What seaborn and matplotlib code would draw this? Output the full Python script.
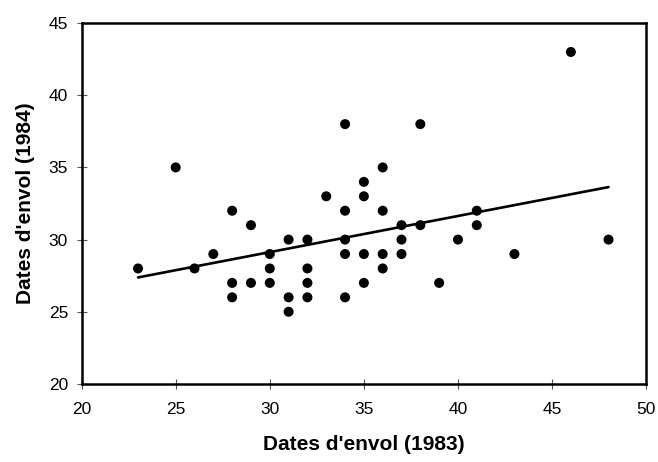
import numpy as np
import pandas as pd
import matplotlib
matplotlib.use("Agg")
import matplotlib.pyplot as plt
import seaborn as sns

# ---------------- DATA ----------------
dates_1983 = [23, 25, 26, 27, 28, 28, 28, 29, 29, 30, 30, 30, 31, 31, 31,
              32, 32, 32, 32, 33, 34, 34, 34, 34, 34, 35, 35, 35, 35, 36,
              36, 36, 36, 37, 37, 37, 38, 38, 39, 40, 41, 41, 43, 46, 48]
dates_1984 = [28, 35, 28, 29, 32, 27, 26, 31, 27, 29, 28, 27, 30, 26, 25,
              30, 28, 27, 26, 33, 38, 32, 30, 29, 26, 34, 33, 29, 27, 35,
              32, 29, 28, 31, 30, 29, 38, 31, 27, 30, 32, 31, 29, 43, 30]
x_ticks = [20, 25, 30, 35, 40, 45, 50]
y_ticks = [20, 25, 30, 35, 40, 45]

df = pd.DataFrame({"x": dates_1983, "y": dates_1984})

# ---------------- STYLE ----------------
sns.set_style("white")
plt.rcParams['font.family'] = ['Liberation Sans', 'DejaVu Sans']

fig = plt.figure(figsize=(6.58, 4.62), dpi=100)
ax = fig.add_axes([0.124, 0.169, 0.858, 0.781])

sns.regplot(data=df, x="x", y="y", ax=ax, ci=None, truncate=True,
            scatter_kws={"s": 52, "color": "black", "edgecolors": "none", "alpha": 1},
            line_kws={"color": "black", "linewidth": 1.9})

ax.set_xlim(20, 50)
ax.set_ylim(20, 45)
ax.set_xticks(x_ticks)
ax.set_yticks(y_ticks)
ax.tick_params(axis="both", direction="inout", length=7.5, width=0.8,
               bottom=True, left=True, color="#555555",
               labelsize=12.5, labelcolor="black")
ax.tick_params(axis="x", pad=9)
ax.tick_params(axis="y", pad=6)

for side in ax.spines.values():
    side.set_linewidth(1.8)
    side.set_color("black")

ax.set_xlabel("Dates d'envol (1983)", fontsize=15, fontweight="bold",
              labelpad=13, color="black")
ax.set_ylabel("Dates d'envol (1984)", fontsize=15, fontweight="bold",
              labelpad=10, color="black")

fig.savefig("out.png", dpi=100)
